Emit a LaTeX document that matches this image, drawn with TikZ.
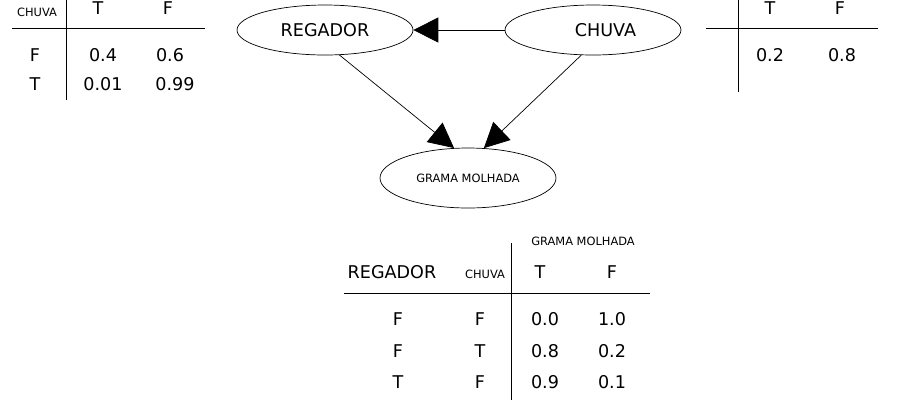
\documentclass[tikz,border=0pt]{standalone}
\usepackage{fontspec}
\setmainfont{DejaVu Sans}
\usetikzlibrary{shapes.geometric, arrows.meta}
\tikzstyle{var} = [ellipse, draw, thin, minimum width=3.52cm, minimum height=1cm, font=\fontsize{10}{12}\selectfont]
\tikzstyle{cell} = [inner sep=0pt, font=\fontsize{10}{12}\selectfont]
\tikzstyle{tiny} = [inner sep=0pt, font=\fontsize{6.5}{8}\selectfont]
\tikzstyle{arrow} = [thin,-{Triangle[length=0.5cm,width=0.5cm]}]

\begin{document}
\begin{tikzpicture}[x=0.02cm, y=-0.02cm]
        \useasboundingbox (0,0) rectangle (900,400);

        % Network nodes
        \node (regador) [var] at (325,30) {REGADOR\hspace{0.3cm}};
        \node (chuva) [var] at (593,30) {\hspace{0.5cm}CHUVA};
        \node (grama) [var, minimum height=1.2cm, font=\fontsize{6.5}{8}\selectfont] at (468,178) {GRAMA MOLHADA};

        % Arrows
        \draw [arrow] (chuva) -- (regador);
        \draw [arrow] (regador.-60) -- (grama.115);
        \draw [arrow] (chuva.-115) -- (grama.62);

        % Table for REGADOR given CHUVA
        \node (cpt_r_head) [tiny] at (37,12) {CHUVA};
        \node (cpt_r_t) [cell] at (98,8) {T};
        \node (cpt_r_f) [cell] at (168,8) {F};
        \draw (12,28) -- (205,28);
        \draw (66,0) -- (66,100);
        \node [cell] at (35,55) {F};
        \node [cell] at (103,55) {0.4};
        \node [cell] at (170,55) {0.6};
        \node [cell] at (35,84) {T};
        \node [cell] at (103,84) {0.01};
        \node [cell] at (175,84) {0.99};

        % Table for CHUVA
        \node (cpt_c_t) [cell] at (770,8) {T};
        \node (cpt_c_f) [cell] at (840,8) {F};
        \draw (706,28) -- (878,28);
        \draw (738,0) -- (738,92);
        \node [cell] at (770,55) {0.2};
        \node [cell] at (842,55) {0.8};

        % Table for GRAMA MOLHADA
        \node (cpt_g_head) [tiny] at (583,241) {GRAMA MOLHADA};
        \node [cell] at (392,272) {REGADOR};
        \node [tiny] at (485,274) {CHUVA};
        \node [cell] at (540,272) {T};
        \node [cell] at (612,272) {F};
        \draw (344,293) -- (650,293);
        \draw (511,243) -- (511,400);
        \foreach \r/\c/\t/\f [count=\i] in {F/F/0.0/1.0, F/T/0.8/0.2, T/F/0.9/0.1} {
            \node [cell] at (398,288+31.5*\i) {\r};
            \node [cell] at (480,288+31.5*\i) {\c};
            \node [cell] at (545,288+31.5*\i) {\t};
            \node [cell] at (612,288+31.5*\i) {\f};
        }
\end{tikzpicture}
\end{document}
